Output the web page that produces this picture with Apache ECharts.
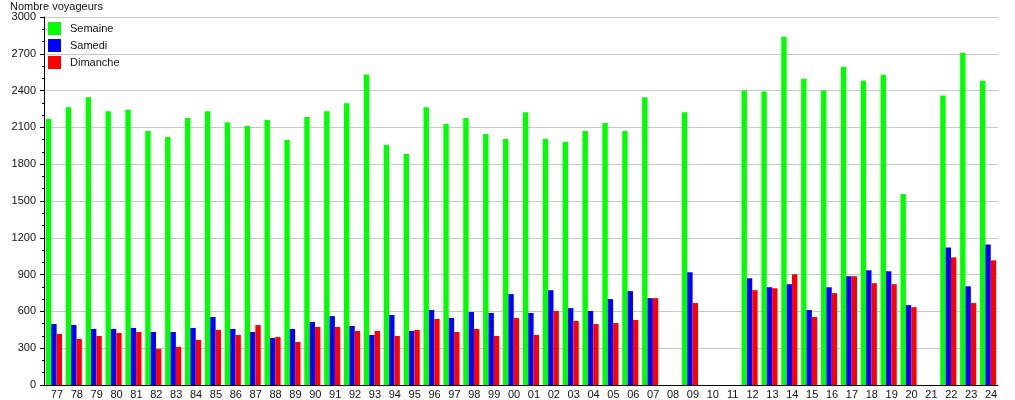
<!DOCTYPE html>
<html>
<head>
<meta charset="utf-8">
<script src="https://cdn.jsdelivr.net/npm/echarts@6/dist/echarts.min.js"></script>
<style>
  html, body { margin: 0; padding: 0; background: #fff; }
  #chart { width: 1015px; height: 400px; }
</style>
</head>
<body>
<div id="chart"></div>
<script>
// années (deux chiffres)
var years = ['77','78','79','80','81','82','83','84','85','86','87','88','89','90','91','92','93','94','95','96','97','98','99',
  '00','01','02','03','04','05','06','07','08','09','10','11','12','13','14','15','16','17','18','19','20','21','22','23','24'];

// voyageurs par jour (null = pas de donnée)
var semaine = [2170, 2265, 2345, 2232, 2243, 2070, 2022, 2176, 2232, 2143, 2111, 2160, 1997, 2184, 2232, 2297, 2532, 1957, 1884, 2265, 2127, 2176, 2046,
  2005, 2224, 2005, 1984, 2070, 2135, 2070, 2346, null, 2224, null, null, 2400, 2392, 2838, 2497, 2400, 2595, 2481, 2530, 1557, null, 2360, 2708, 2481];
var samedi = [497, 489, 457, 457, 465, 432, 432, 465, 554, 457, 432, 384, 457, 514, 562, 481, 408, 570, 441, 611, 546, 595, 587,
  741, 587, 773, 627, 603, 700, 765, 708, null, 919, null, null, 870, 797, 822, 611, 797, 887, 935, 927, 651, null, 1121, 805, 1146];
var dimanche = [416, 376, 400, 424, 432, 295, 311, 368, 449, 408, 489, 392, 351, 473, 473, 441, 441, 400, 449, 538, 432, 457, 400,
  546, 408, 603, 522, 497, 505, 530, 708, null, 668, null, null, 773, 789, 903, 554, 749, 887, 830, 822, 635, null, 1041, 668, 1016];

var yTicks = { min: 0, max: 3000, interval: 300 };

var font = 'Liberation Sans, Arial, sans-serif';
var chart = echarts.init(document.getElementById('chart'));

chart.setOption({
  animation: false,
  backgroundColor: '#fff',
  title: {
    text: 'Nombre voyageurs',
    left: 5,
    top: -4,
    textStyle: { fontFamily: font, fontSize: 11, fontWeight: 'normal', color: '#111' }
  },
  legend: {
    orient: 'vertical',
    left: 43,
    top: 17,
    itemWidth: 13,
    itemHeight: 13,
    itemGap: 4,
    icon: 'rect',
    data: ['Semaine', 'Samedi', 'Dimanche'],
    textStyle: { fontFamily: font, fontSize: 11, color: '#111', padding: [0, 0, 0, 4] }
  },
  grid: { left: 44, right: 17, top: 17, bottom: 13 },
  xAxis: {
    type: 'category',
    data: years,
    axisLine: { lineStyle: { color: '#000', width: 1 } },
    axisTick: { show: false },
    axisLabel: { fontFamily: font, fontSize: 11, color: '#111', margin: 4, padding: [0, 0, 0, 6], interval: 0 },
    splitLine: { show: false }
  },
  yAxis: {
    type: 'value',
    min: yTicks.min,
    max: yTicks.max,
    interval: yTicks.interval,
    axisLine: { show: true, lineStyle: { color: '#000', width: 1 } },
    axisTick: { show: true, length: 4, lineStyle: { color: '#000' } },
    minorTick: { show: true, splitNumber: 3, length: 2, lineStyle: { color: '#000' } },
    axisLabel: {
      fontFamily: font, fontSize: 11, color: '#111', margin: 8,
      formatter: function (v) { return String(v); }
    },
    splitLine: { show: true, lineStyle: { color: '#c8c8c8', width: 1 } }
  },
  series: [
    {
      name: 'Semaine',
      type: 'bar',
      data: semaine,
      barGap: '0%',
      barCategoryGap: '19%',
      itemStyle: { color: '#00ff00' }
    },
    {
      name: 'Samedi',
      type: 'bar',
      data: samedi,
      barGap: '0%',
      barCategoryGap: '19%',
      itemStyle: { color: '#0000ff' }
    },
    {
      name: 'Dimanche',
      type: 'bar',
      data: dimanche,
      barGap: '0%',
      barCategoryGap: '19%',
      itemStyle: { color: '#ff0000' }
    }
  ]
});
</script>
</body>
</html>
